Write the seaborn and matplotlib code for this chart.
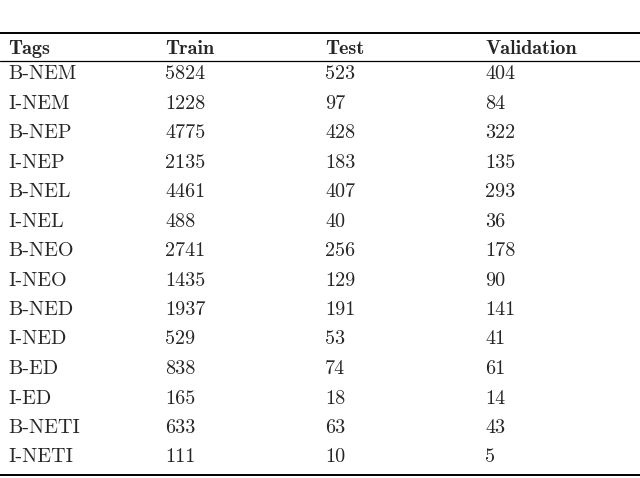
import matplotlib.pyplot as plt
import seaborn as sns

tags = ["B-NEM", "I-NEM", "B-NEP", "I-NEP", "B-NEL", "I-NEL", "B-NEO",
        "I-NEO", "B-NED", "I-NED", "B-ED", "I-ED", "B-NETI", "I-NETI"]
train = [5824, 1228, 4775, 2135, 4461, 488, 2741, 1435, 1937, 529, 838, 165, 633, 111]
test = [523, 97, 428, 183, 407, 40, 256, 129, 191, 53, 74, 18, 63, 10]
validation = [404, 84, 322, 135, 293, 36, 178, 90, 141, 41, 61, 14, 43, 5]
headers = ["Tags", "Train", "Test", "Validation"]

sns.set_theme(style="white")
plt.rcParams["font.family"] = ["cmr10", "DejaVu Serif"]
plt.rcParams["axes.unicode_minus"] = False

fig = plt.figure(figsize=(6.4, 4.78), dpi=100)
ax = fig.add_axes([0, 0, 1, 1])
ax.set_xlim(0, 640)
ax.set_ylim(478, 0)
ax.axis("off")

col_x = [8, 165, 325, 485]
fs = 14.5

# header
for x, h in zip(col_x, headers):
    ax.text(x, 54, h, fontsize=fs, fontfamily=["cmb10", "DejaVu Serif"],
            va="baseline", ha="left")

# rows
row0, step = 79, 29.5
for i, row in enumerate(zip(tags, train, test, validation)):
    y = row0 + i * step
    for x, v in zip(col_x, row):
        ax.text(x, y, str(v), fontsize=fs, va="baseline", ha="left")

ax.plot([0, 640], [33, 33], color="black", lw=1.4)
ax.plot([0, 640], [60.5, 60.5], color="black", lw=0.9)
ax.plot([0, 640], [475, 475], color="black", lw=1.4)

fig.savefig("out.png", dpi=100)
